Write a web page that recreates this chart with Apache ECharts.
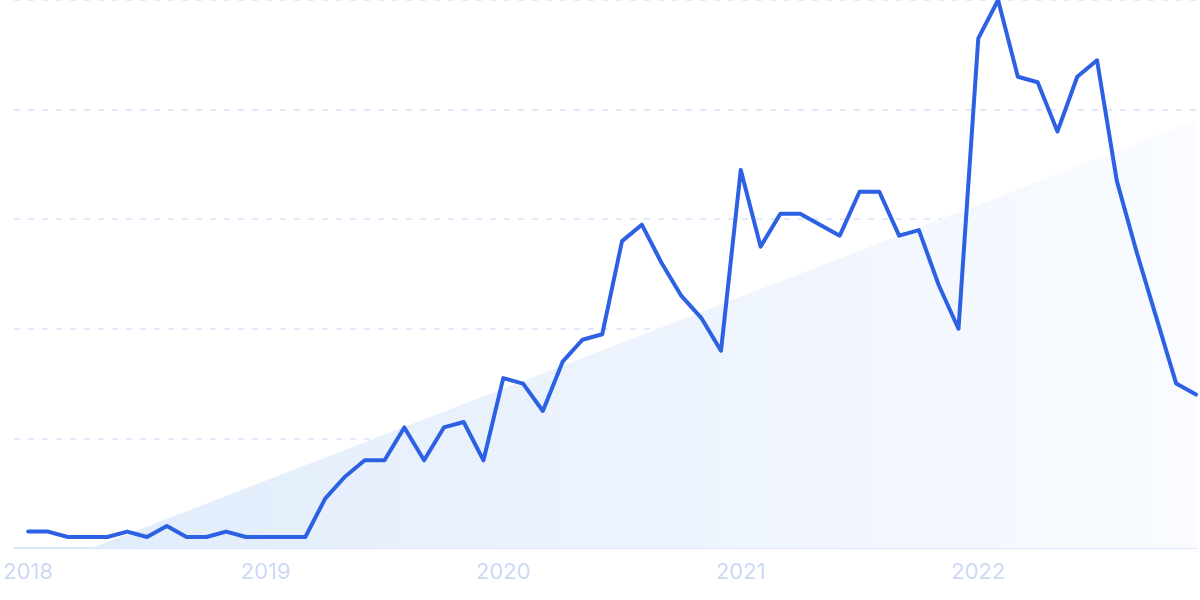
<!DOCTYPE html>
<html>
<head>
<meta charset="utf-8">
<script src="https://cdn.jsdelivr.net/npm/echarts@6/dist/echarts.min.js"></script>
<style>
  html, body { margin: 0; padding: 0; background: #ffffff; }
  #chart { width: 1200px; height: 600px; }
</style>
</head>
<body>
<div id="chart"></div>
<script>
// Monthly index, Jan 2018 (0) .. Dec 2022 (59)
const monthIndex = Array.from({length: 60}, (_, i) => i);
const values = [
  3, 3, 2, 2, 2, 3, 2, 4, 2, 2, 3, 2,
  2, 2, 2, 9, 13, 16, 16, 22, 16, 22, 23, 16,
  31, 30, 25, 34, 38, 39, 56, 59, 52, 46, 42, 36,
  69, 55, 61, 61, 59, 57, 65, 65, 57, 58, 48, 40,
  93, 100, 86, 85, 76, 86, 89, 67, 54, 42, 30, 28
];
// Trend line (start and end points, in month index / value units)
const trendX = [3.2, 59];
const trendY = [0, 78];
// Year tick labels and their positions (month index)
const yearLabels = ['2018', '2019', '2020', '2021', '2022'];
const yearTicks = [0, 12, 24, 36, 48];

const seriesData = monthIndex.map((m, i) => [m, values[i]]);
const trendData = trendX.map((x, i) => [x, trendY[i]]);

const chart = echarts.init(document.getElementById('chart'), null, {renderer: 'canvas'});
chart.setOption({
  animation: false,
  backgroundColor: '#ffffff',
  grid: { left: 14, right: 4, top: 0, bottom: 52, containLabel: false },
  xAxis: {
    type: 'value',
    min: -0.72,
    max: 59,
    axisLine: { show: true, lineStyle: { color: '#dce5fa', width: 2 } },
    axisTick: { show: false },
    splitLine: { show: false },
    axisLabel: {
      customValues: yearTicks,
      formatter: v => yearLabels[yearTicks.indexOf(Math.round(v))] || '',
      color: '#cdd8f5',
      fontFamily: 'Inter',
      fontSize: 22,
      margin: 13
    }
  },
  yAxis: {
    type: 'value',
    min: 0,
    max: 100,
    interval: 20,
    axisLine: { show: false },
    axisTick: { show: false },
    axisLabel: { show: false },
    splitLine: { show: true, lineStyle: { color: '#d8e4fc', type: [6, 8], width: 1.5 } }
  },
  series: [
    {
      type: 'line',
      data: trendData,
      showSymbol: false,
      silent: true,
      lineStyle: { width: 0 },
      areaStyle: {
        color: new echarts.graphic.LinearGradient(0, 0, 1, 0, [
          { offset: 0, color: '#e1ecfb' },
          { offset: 1, color: '#f9fbff' }
        ]),
        opacity: 1
      },
      z: 1
    },
    {
      type: 'line',
      data: seriesData,
      showSymbol: false,
      smooth: false,
      lineStyle: { color: '#2d61e3', width: 4, join: 'round', cap: 'round' },
      z: 3
    }
  ]
});
</script>
</body>
</html>
